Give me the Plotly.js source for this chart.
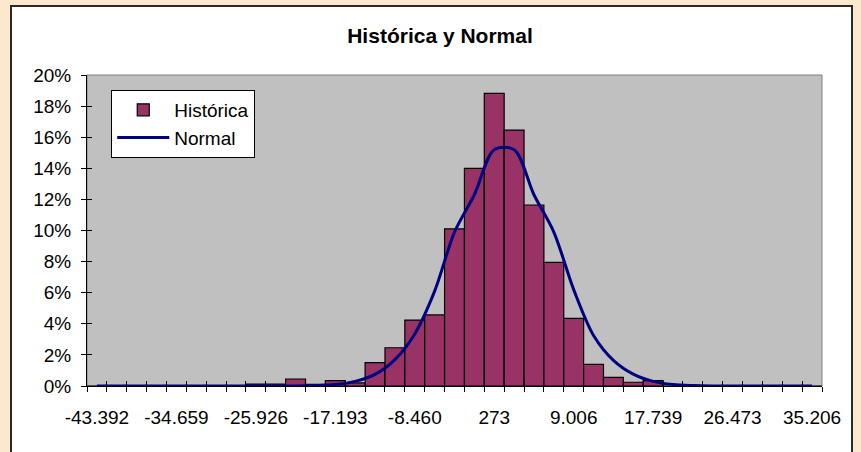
<!DOCTYPE html>
<html>
<head>
<meta charset="utf-8">
<script src="https://cdn.plot.ly/plotly-3.0.1.min.js"></script>
<style>
  html, body { margin: 0; padding: 0; background: #FBE8CE; width: 861px; height: 452px; overflow: hidden; }
  #frame { position: absolute; left: 10px; top: 5px; width: 843px; height: 500px; background: #ffffff;
           border: 2px solid #2a2a2a; box-sizing: border-box; }
  #chart { position: absolute; left: 0; top: 0; width: 861px; height: 452px; }
</style>
</head>
<body>
<div id="frame"></div>
<div id="chart"></div>
<script>
// Histogram bins (37 classes); only every 4th class label is shown on the axis
const historica = [0, 0, 0, 0, 0, 0, 0, 0, 0.0012, 0.0012, 0.0045, 0.0010, 0.0034, 0.0020,
  0.0150, 0.0246, 0.0424, 0.0457, 0.1010, 0.1400, 0.1882, 0.1646, 0.1164, 0.0795, 0.0435,
  0.0139, 0.0056, 0.0024, 0.0034, 0, 0, 0, 0, 0, 0, 0, 0];
const normal = [0, 0, 0, 0, 0, 0, 0, 0, 0, 0, 0, 0.0003, 0.0010, 0.0030, 0.0075, 0.0170,
  0.0335, 0.0610, 0.0990, 0.1230, 0.1520, 0.1520, 0.1230, 0.0990, 0.0620, 0.0325, 0.0165,
  0.0076, 0.0030, 0.0010, 0.0003, 0, 0, 0, 0, 0, 0];
const labelIndex = [0, 4, 8, 12, 16, 20, 24, 28, 32, 36];
const labelText = ["-43.392", "-34.659", "-25.926", "-17.193", "-8.460", "273", "9.006", "17.739", "26.473", "35.206"];

const idx = historica.map((_, i) => i);
const bounds = [...idx.map(i => i - 0.5), historica.length - 0.5];
const font = "Arial, 'Liberation Sans', sans-serif";

const traces = [
  { type: "bar", name: "Histórica", x: idx, y: historica, xaxis: "x", yaxis: "y",
    marker: { color: "#993366", line: { color: "#000000", width: 1.2 } } },
  { type: "scatter", mode: "lines", name: "Normal", x: idx, y: normal, xaxis: "x2", yaxis: "y2",
    line: { color: "#000080", width: 3, shape: "spline", smoothing: 0.9 } }
];

const layout = {
  width: 861, height: 452,
  margin: { l: 87, r: 39, t: 75, b: 66 },
  paper_bgcolor: "rgba(0,0,0,0)",
  plot_bgcolor: "#C0C0C0",
  bargap: 0,
  font: { family: font, size: 19, color: "#000" },
  title: { text: "<b>Histórica y Normal</b>", font: { family: font, size: 21, color: "#000" },
           x: 440 / 861, xref: "container", xanchor: "center", y: 1 - 36 / 452, yanchor: "middle" },
  showlegend: true,
  legend: { x: 0.033, y: 0.952, xanchor: "left", yanchor: "top", bgcolor: "#ffffff",
            bordercolor: "#000000", borderwidth: 1, font: { family: font, size: 19, color: "#000" },
            tracegroupgap: 0, itemwidth: 52 },
  xaxis: { range: [-0.5, historica.length - 0.5], showgrid: false, zeroline: false,
           showline: true, linecolor: "#000", linewidth: 1,
           tickmode: "array", tickvals: labelIndex, ticktext: labelText, ticks: "",
           ticklabelstandoff: 14, tickfont: { family: font, size: 19 },
           minor: { tickmode: "array", tickvals: bounds, ticks: "outside", ticklen: 5, tickcolor: "#000", tickwidth: 1, showgrid: false },
           fixedrange: true },
  xaxis2: { overlaying: "x", matches: "x", anchor: "y2", side: "bottom", showgrid: false, zeroline: false,
            showline: false, tickmode: "array", tickvals: bounds, ticks: "inside", ticklen: 5,
            tickcolor: "#000", tickwidth: 1, showticklabels: false },
  yaxis: { range: [0, 0.2], tickmode: "linear", tick0: 0, dtick: 0.02, tickformat: ".0%",
           showgrid: false, zeroline: false, showline: true, linecolor: "#000", linewidth: 1,
           ticks: "outside", ticklen: 5, tickcolor: "#000", ticklabelstandoff: 6,
           tickfont: { family: font, size: 19 }, fixedrange: true },
  yaxis2: { overlaying: "y", matches: "y", anchor: "x2", side: "left", range: [0, 0.2],
            tickmode: "linear", tick0: 0, dtick: 0.02, ticks: "inside", ticklen: 5, tickcolor: "#000",
            showticklabels: false, showgrid: false, zeroline: false, showline: false },
  shapes: [{ type: "rect", xref: "paper", yref: "paper", x0: 0, x1: 1, y0: 0, y1: 1,
             line: { color: "#808080", width: 1 }, layer: "below" }]
};

Plotly.newPlot("chart", traces, layout, { displayModeBar: false, staticPlot: true });
</script>
</body>
</html>
